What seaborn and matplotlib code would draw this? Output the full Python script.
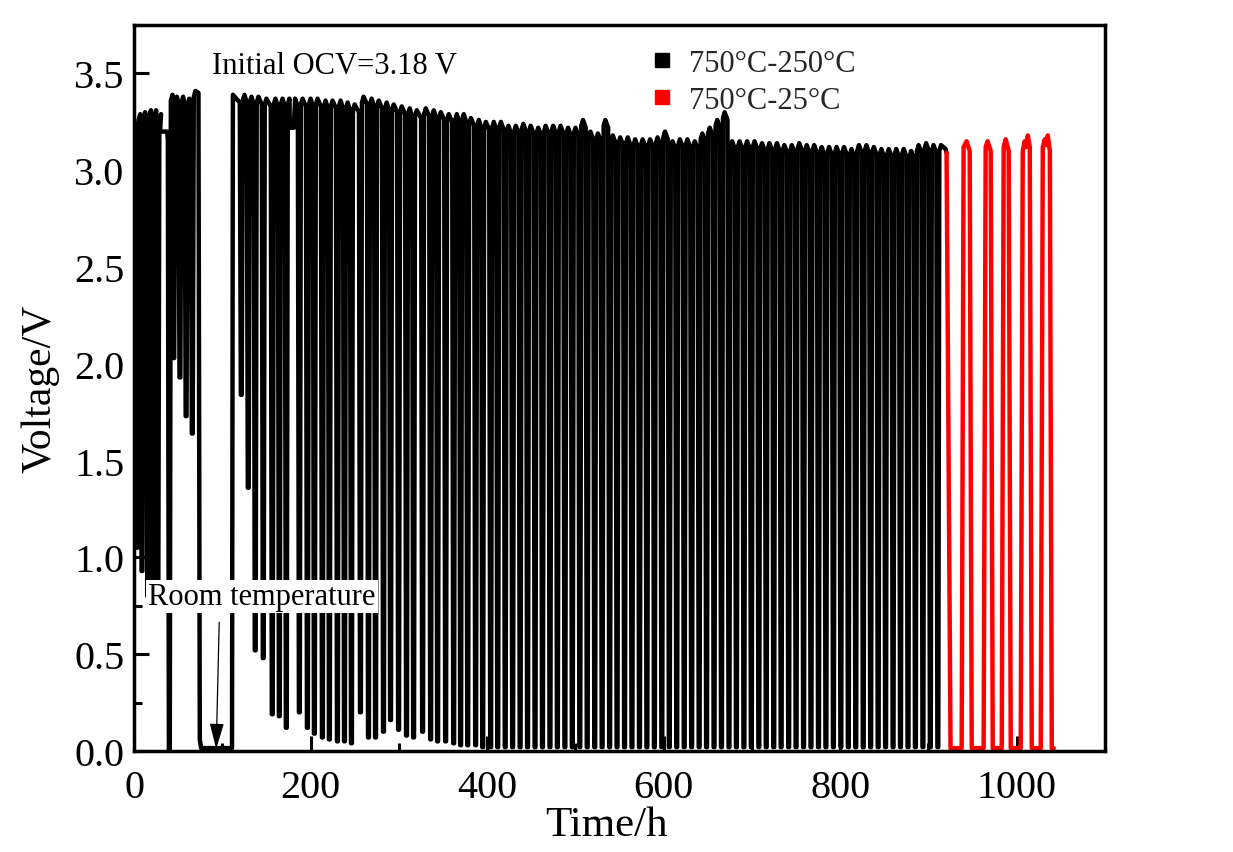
import numpy as np
import pandas as pd
import seaborn as sns
import matplotlib
matplotlib.use("Agg")
import matplotlib.pyplot as plt
from matplotlib.ticker import MultipleLocator, FormatStrFormatter
from matplotlib.lines import Line2D

# ---------------- data ----------------
series_names = ["750°C-250°C", "750°C-25°C"]
series_colors = ["black", "red"]

start_voltage = 3.25  # voltage at t = 0

# segment A (before first rest)
a_times = [3.4, 9.0, 15.5, 21.5, 27.0]
a_troughs = [1.05, 0.93, 0.80, 0.80, 0.78]
a_peaks = [3.29, 3.30, 3.31, 3.31, 3.29]
rest1_times = [29.5, 37.5]
rest1_volts = [3.20, 3.20]

# segment B
b_times = [40.0, 45.0, 52.0, 59.0, 66.0]
b_troughs = [0.0, 2.03, 1.93, 1.73, 1.64]
b_peaks = [3.39, 3.38, 3.38, 3.37, 3.41]

# room-temperature hold
room_times = [73.0, 74.5, 76.0, 111.0, 112.0]
room_volts = [3.40, 0.06, 0.015, 0.015, 3.39]

# segment C1
c1_times = [121.5, 129.4, 137.3, 146.4, 156.6, 164.6, 172.5]
c1_troughs = [1.84, 1.36, 0.52, 0.48, 0.19, 0.18, 0.12]
c1_peaks = [3.39, 3.38, 3.38, 3.37, 3.37, 3.37, 3.37]
rest2_times = [176.5, 181.0, 182.5]
rest2_volts = [3.22, 3.22, 3.37]

# segment C2 (long cycling)
c2_times = [187.3, 196.4, 204.3, 213.4, 221.3, 230.4, 238.4, 246.3, 256.5, 265.6,
            273.6, 282.6, 290.6, 299.7, 308.7, 316.7, 326.9, 336.0, 343.9, 353.0,
            362.1, 370.0, 378.0, 387.0, 395.0, 404.0, 412.0, 420.5, 428.9, 437.4,
            445.8, 454.3, 462.7, 471.2, 479.6, 488.1, 496.5, 505.0, 513.4, 521.9,
            530.3, 538.8, 547.2, 555.7, 564.1, 572.6, 581.0, 589.5, 597.9, 606.4,
            614.8, 623.3, 631.7, 640.2, 648.6, 657.1, 665.5, 674.0, 682.4, 690.9,
            699.3, 707.8, 716.2, 724.7, 733.1, 741.6, 750.0, 758.5, 766.9, 775.4,
            783.8, 792.3, 800.7, 809.2, 817.6, 826.1, 834.5, 843.0, 851.4, 859.9,
            868.3, 876.8, 885.2, 893.7, 902.1, 910.6]
c2_peaks = [3.37, 3.37, 3.37, 3.36, 3.36, 3.36, 3.35, 3.34, 3.38, 3.37,
            3.36, 3.35, 3.34, 3.33, 3.32, 3.31, 3.32, 3.31, 3.30, 3.29,
            3.29, 3.29, 3.27, 3.26, 3.25, 3.25, 3.25, 3.23, 3.23, 3.24,
            3.23, 3.22, 3.23, 3.23, 3.23, 3.22, 3.22, 3.26, 3.20, 3.19,
            3.26, 3.18, 3.17, 3.17, 3.16, 3.16, 3.16, 3.17, 3.20, 3.15,
            3.16, 3.16, 3.15, 3.19, 3.22, 3.26, 3.30, 3.15, 3.15, 3.15,
            3.15, 3.14, 3.14, 3.14, 3.13, 3.13, 3.14, 3.13, 3.13, 3.12,
            3.12, 3.12, 3.12, 3.11, 3.13, 3.13, 3.12, 3.11, 3.11, 3.11,
            3.11, 3.10, 3.13, 3.14, 3.13, 3.13]
c2_troughs = [0.20, 0.12, 0.09, 0.07, 0.06, 0.05, 0.05, 0.04, 0.20, 0.07,
              0.07, 0.10, 0.16, 0.11, 0.08, 0.07, 0.10, 0.06, 0.05, 0.05,
              0.04, 0.03, 0.03, 0.03, 0.02, 0.02, 0.02, 0.02, 0.02, 0.02,
              0.02, 0.02, 0.02, 0.02, 0.02, 0.02, 0.02, 0.02, 0.02, 0.02,
              0.02, 0.02, 0.02, 0.02, 0.02, 0.02, 0.02, 0.02, 0.02, 0.02,
              0.02, 0.02, 0.02, 0.02, 0.02, 0.02, 0.02, 0.02, 0.02, 0.02,
              0.02, 0.02, 0.02, 0.02, 0.02, 0.02, 0.02, 0.02, 0.02, 0.02,
              0.02, 0.02, 0.02, 0.02, 0.02, 0.02, 0.02, 0.02, 0.02, 0.02,
              0.02, 0.02, 0.02, 0.02, 0.02, 0.02]
black_end_times = [919.5, 920.5]
black_end_volts = [3.11, 3.09]

# 750°C-25°C pulses
red_times = [920.5, 925.0, 937.6, 939.8, 943.2, 946.7, 949.0,
             962.5, 964.8, 967.0, 970.5, 972.8,
             983.0, 985.2, 987.5, 990.9, 993.2,
             1004.5, 1006.8, 1009.0, 1010.7, 1012.5, 1014.8, 1017.0,
             1027.2, 1029.5, 1031.8, 1033.4, 1035.2, 1037.5, 1039.7, 1042.0]
red_volts = [3.09, 0.015, 0.015, 3.12, 3.15, 3.10, 0.015,
             0.015, 3.12, 3.15, 3.10, 0.015,
             0.015, 3.12, 3.16, 3.10, 0.015,
             0.015, 3.10, 3.15, 3.12, 3.18, 3.12, 0.015,
             0.015, 3.12, 3.16, 3.13, 3.18, 3.10, 0.015, 0.015]

x_ticks = [0, 200, 400, 600, 800, 1000]
y_ticks = [0.0, 0.5, 1.0, 1.5, 2.0, 2.5, 3.0, 3.5]


# ---------------- build the waveform ----------------
def cycles(f_t, f_lo, f_hi, v_before):
    ts, vs = [], []
    prev = v_before
    for t, lo, hi in zip(f_t, f_lo, f_hi):
        ts += [t - 1.7, t - 0.5, t + 0.5, t + 1.7, t + 3.6]
        vs += [prev - 0.04, lo, lo, hi - 0.03, hi]
        prev = hi
    return ts, vs


bt, bv = [0.0], [start_voltage]
for seg in [cycles(a_times, a_troughs, a_peaks, start_voltage),
            (rest1_times, rest1_volts),
            cycles(b_times, b_troughs, b_peaks, rest1_volts[-1]),
            (room_times, room_volts),
            cycles(c1_times, c1_troughs, c1_peaks, room_volts[-1]),
            (rest2_times, rest2_volts),
            cycles(c2_times, c2_troughs, c2_peaks, rest2_volts[-1]),
            (black_end_times, black_end_volts)]:
    bt += list(seg[0])
    bv += list(seg[1])

df = pd.concat([
    pd.DataFrame({"Time": bt, "Voltage": bv, "Condition": series_names[0]}),
    pd.DataFrame({"Time": red_times, "Voltage": red_volts, "Condition": series_names[1]}),
], ignore_index=True)

# ---------------- plot ----------------
sns.set_theme(style="ticks")
plt.rcParams["font.family"] = ["Liberation Serif", "DejaVu Serif"]

fig = plt.figure(figsize=(12.33, 8.53), dpi=100)
ax = fig.add_axes([0.1087, 0.1184, 0.7875, 0.851])

sns.lineplot(data=df, x="Time", y="Voltage", hue="Condition",
             palette=dict(zip(series_names, series_colors)),
             sort=False, estimator=None, linewidth=3.2, legend=False, ax=ax)
for ln in ax.lines:
    ln.set_solid_joinstyle("round")
    ln.set_solid_capstyle("round")

ax.set_xlim(0, 1100)
ax.set_ylim(0, 3.75)
ax.set_xticks(x_ticks)
ax.set_yticks(y_ticks)
ax.xaxis.set_minor_locator(MultipleLocator(100))
ax.yaxis.set_minor_locator(MultipleLocator(0.25))
ax.yaxis.set_major_formatter(FormatStrFormatter("%.1f"))
ax.tick_params(axis="both", which="major", direction="in", length=11, width=2.2,
               labelsize=29, color="black", labelcolor="black")
ax.tick_params(axis="both", which="minor", direction="in", length=5.5, width=2.2,
               color="black")
ax.tick_params(axis="x", which="major", pad=13)
ax.tick_params(axis="y", which="major", pad=7)
for s in ax.spines.values():
    s.set_linewidth(2.5)
    s.set_color("black")

ax.set_xlabel("Time/h", fontsize=31, labelpad=-2, color="black")
ax.set_ylabel("Voltage/V", fontsize=30, labelpad=10, color="black")
ax.xaxis.set_label_coords(0.487, -0.075)

ax.text(88, 3.50, "Initial OCV=3.18 V", fontsize=22, va="baseline", ha="left",
        color="black")
ax.text(15.9, 0.758, "Room temperature", fontsize=22, va="baseline", ha="left",
        color="black", zorder=5,
        bbox=dict(facecolor="white", edgecolor="none", pad=1.5))
ax.annotate("", xy=(93.1, 0.01), xytext=(96.5, 0.665),
            arrowprops=dict(arrowstyle="-|>,head_length=0.8,head_width=0.22",
                            color="black", lw=0.9, shrinkA=0, shrinkB=0,
                            mutation_scale=20),
            zorder=6)

handles = [Line2D([], [], marker="s", linestyle="none", color=c, markersize=10)
           for c in series_colors]
ax.legend(handles, series_names, loc="upper left", bbox_to_anchor=(0.528, 0.967),
          frameon=False, fontsize=22, handlelength=1.0, handletextpad=0.4,
          labelspacing=0.25, borderpad=0, borderaxespad=0)

fig.savefig("out.png", dpi=100)
